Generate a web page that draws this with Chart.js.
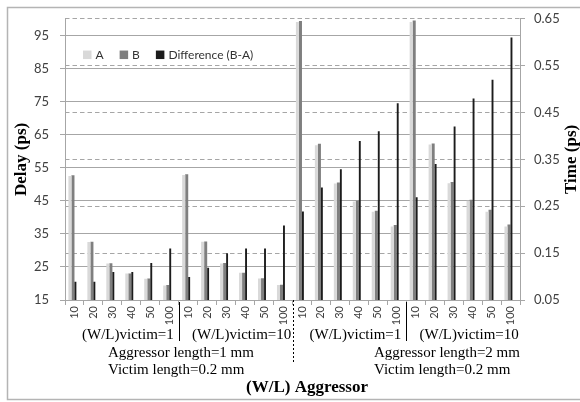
<!DOCTYPE html>
<html>
<head>
<meta charset="utf-8">
<script src="https://cdn.jsdelivr.net/npm/chart.js@4/dist/chart.umd.min.js"></script>
<style>
  html, body { margin: 0; padding: 0; background: #fff; }
  #wrap { position: relative; width: 580px; height: 402px; }
</style>
</head>
<body>
<div id="wrap"><canvas id="delayChart"></canvas></div>
<script>
// categories: (W/L) aggressor, repeated for each victim / length group
const categories = ['10', '20', '30', '40', '50', '100', '10', '20', '30', '40', '50', '100',
                    '10', '20', '30', '40', '50', '100', '10', '20', '30', '40', '50', '100'];

const seriesA = [52.5, 32.5, 26.0, 23.0, 21.4, 19.4, 52.8, 32.6, 26.0, 23.2, 21.5, 19.5,
                 99.0, 61.8, 50.2, 44.8, 41.7, 37.2, 99.0, 62.0, 50.3, 45.0, 41.7, 37.2];
const seriesB = [52.7, 32.6, 26.1, 23.0, 21.5, 19.5, 53.0, 32.7, 26.2, 23.2, 21.6, 19.6,
                 99.3, 62.2, 50.5, 45.0, 42.0, 37.7, 99.5, 62.3, 50.7, 45.3, 42.3, 37.8];
const seriesDiff = [0.089, 0.089, 0.11, 0.11, 0.129, 0.16, 0.099, 0.119, 0.15, 0.16, 0.16, 0.209,
                    0.239, 0.29, 0.329, 0.389, 0.41, 0.47, 0.269, 0.34, 0.42, 0.48, 0.52, 0.61];

const delayTicks = [15, 25, 35, 45, 55, 65, 75, 85, 95];
const timeTicks = [0.05, 0.15, 0.25, 0.35, 0.45, 0.55, 0.65];

const groupLabels = ['(W/L)victim=1', '(W/L)victim=10', '(W/L)victim=1', '(W/L)victim=10'];
const lengthLabels = [
  ['Aggressor length=1 mm', 'Victim length=0.2 mm'],
  ['Aggressor length=2 mm', 'Victim length=0.2 mm']
];

const GRID = '#a6a6a6';
const TICK_FONT = 'Lato';
const SERIF = '"Liberation Serif", "Times New Roman", serif';

// legend, right title, group labels and frame drawn on top of the chart
const annotations = {
  id: 'annotations',
  afterDraw(chart) {
    const { ctx, chartArea, scales } = chart;
    const x = scales.x;
    const px = i => x.getPixelForValue(i);
    const boundary = i => (px(i - 1) + px(i)) / 2;

    ctx.save();

    // outer frame
    ctx.strokeStyle = '#b4b4b4';
    ctx.lineWidth = 1.5;
    ctx.strokeRect(7.5, 7.5, 580, 392);

    // legend inside plot area
    ctx.font = '12px ' + TICK_FONT;
    ctx.textBaseline = 'middle';
    ctx.textAlign = 'left';
    let lx = chartArea.left + 18;
    const ly = chartArea.top + 36;
    chart.data.datasets.forEach(ds => {
      ctx.fillStyle = ds.backgroundColor;
      ctx.fillRect(lx, ly - 4.25, 8.5, 8.5);
      lx += 12.5;
      ctx.fillStyle = '#333';
      ctx.fillText(ds.label, lx, ly + 0.5);
      lx += ctx.measureText(ds.label).width + 16;
    });

    // right axis title, reading bottom to top
    ctx.fillStyle = '#000';
    ctx.font = 'bold 17px ' + SERIF;
    ctx.textAlign = 'center';
    ctx.save();
    ctx.translate(572, (chartArea.top + chartArea.bottom) / 2);
    ctx.rotate(-Math.PI / 2);
    ctx.fillText('Time (ps)', 0, 0);
    ctx.restore();

    // x axis title
    ctx.fillText('(W/L) Aggressor', 307, 388);

    // victim group labels
    ctx.font = '15px ' + SERIF;
    groupLabels.forEach((label, g) => {
      const cx = (px(g * 6) + px(g * 6 + 5)) / 2 + 6;
      ctx.fillText(label, cx, 335);
    });

    // length labels, left aligned blocks
    ctx.textAlign = 'left';
    const blockX = [108, 374];
    lengthLabels.forEach((lines, h) => {
      lines.forEach((line, k) => ctx.fillText(line, blockX[h], 353 + k * 17));
    });

    // separators
    ctx.strokeStyle = '#000';
    ctx.lineWidth = 1;
    [6, 18].forEach(i => {
      const sx = Math.round(boundary(i)) + 0.5;
      ctx.beginPath();
      ctx.moveTo(sx, chartArea.bottom + 2);
      ctx.lineTo(sx, 341);
      ctx.stroke();
    });
    const dx = Math.round(boundary(12)) + 0.5;
    ctx.setLineDash([2, 2]);
    ctx.beginPath();
    ctx.moveTo(dx, chartArea.bottom);
    ctx.lineTo(dx, 363);
    ctx.stroke();

    ctx.restore();
  }
};

const ctx = document.getElementById('delayChart');
new Chart(ctx, {
  type: 'bar',
  data: {
    labels: categories,
    datasets: [
      {
        label: 'A',
        data: seriesA,
        backgroundColor: '#d9d9d9',
        yAxisID: 'y',
        xAxisID: 'x',
        categoryPercentage: 0.64,
        barPercentage: 1.0
      },
      {
        label: 'B',
        data: seriesB,
        backgroundColor: '#7f7f7f',
        yAxisID: 'y',
        xAxisID: 'x',
        categoryPercentage: 0.64,
        barPercentage: 1.0
      },
      {
        label: 'Difference (B-A)',
        data: seriesDiff,
        backgroundColor: '#1c1c1c',
        yAxisID: 'y2',
        xAxisID: 'x2',
        categoryPercentage: 0.2,
        barPercentage: 1.0,
        order: -1
      }
    ]
  },
  options: {
    responsive: true,
    maintainAspectRatio: false,
    animation: false,
    layout: { padding: { left: 7, right: 8, top: 17, bottom: 7 } },
    plugins: {
      legend: { display: false },
      tooltip: { enabled: false }
    },
    scales: {
      x: {
        type: 'category',
        offset: true,
        grid: { offset: true, drawOnChartArea: false, drawTicks: true, tickLength: 5, color: GRID },
        border: { display: true, color: GRID },
        ticks: {
          autoSkip: false, minRotation: 90, maxRotation: 90, padding: 1,
          color: '#404040', font: { family: TICK_FONT, size: 11 }
        },
        afterFit: s => { s.height = 95; }
      },
      x2: {
        type: 'category',
        display: false,
        offset: true,
        grid: { offset: true }
      },
      y: {
        position: 'left',
        min: 15,
        max: 100,
        afterBuildTicks: s => { s.ticks = delayTicks.map(v => ({ value: v })); },
        grid: { color: GRID, tickLength: 5 },
        border: { display: true, color: GRID },
        ticks: { padding: 11, color: '#404040', font: { family: TICK_FONT, size: 13 } },
        title: {
          display: true,
          text: 'Delay (ps)',
          color: '#000',
          font: { family: SERIF, size: 17, weight: 'bold' },
          padding: { top: 4.5, bottom: 0 }
        },
        afterFit: s => { s.width = 58; }
      },
      y2: {
        position: 'right',
        min: 0.05,
        max: 0.65,
        afterBuildTicks: s => { s.ticks = timeTicks.map(v => ({ value: v })); },
        grid: { color: GRID, tickLength: 5, tickColor: GRID, drawOnChartArea: true },
        border: { display: true, color: GRID, dash: [4.5, 3] },
        ticks: {
          padding: 9, color: '#404040', font: { family: TICK_FONT, size: 13 },
          callback: v => v.toFixed(2)
        },
        afterFit: s => { s.width = 52; }
      }
    }
  },
  plugins: [annotations]
});
</script>
</body>
</html>
